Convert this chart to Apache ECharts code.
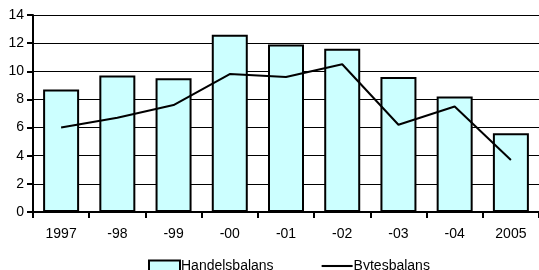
<!DOCTYPE html>
<html><head><meta charset="utf-8">
<script src="https://cdn.jsdelivr.net/npm/echarts@6/dist/echarts.min.js"></script>
<style>html,body{margin:0;padding:0;background:#fff}#c{width:539px;height:270px}</style>
</head><body><div id="c"></div>
<script>
var categories = ['1997','-98','-99','-00','-01','-02','-03','-04','2005'];
var handelsbalans = [8.7, 9.7, 9.5, 12.6, 11.9, 11.6, 9.6, 8.2, 5.6];
var bytesbalans = [6.0, 6.7, 7.6, 9.8, 9.6, 10.5, 6.2, 7.5, 3.7];
var seriesNames = ['Handelsbalans', 'Bytesbalans'];

var chart = echarts.init(document.getElementById('c'), null, {renderer: 'canvas'});
chart.setOption({
  animation: false,
  textStyle: {fontFamily: 'Liberation Sans, Arial, sans-serif'},
  grid: {left: 33, top: 15, width: 507, height: 197, containLabel: false},
  legend: {
    data: [
      {name: seriesNames[0], icon: 'rect', itemStyle: {color: '#CCFFFF', borderColor: '#000', borderWidth: 2}},
      {name: seriesNames[1], icon: 'path://M0,0 L30,0 L30,2 L0,2 Z', itemStyle: {color: '#000', borderWidth: 0}}
    ],
    top: 254, left: 143, itemGap: 48, itemWidth: 31, itemHeight: 11,
    textStyle: {fontSize: 14, color: '#000', padding: [0,0,0,-4]}
  },
  xAxis: {
    type: 'category', data: categories,
    axisLine: {lineStyle: {color: '#000', width: 2}},
    axisTick: {show: true, length: 6, lineStyle: {color: '#000', width: 2}},
    axisLabel: {fontSize: 14, color: '#000', margin: 15},
    splitLine: {show: false}
  },
  yAxis: {
    type: 'value', min: 0, max: 14, interval: 2,
    axisLine: {show: true, lineStyle: {color: '#000', width: 2}},
    axisTick: {show: true, length: 6, lineStyle: {color: '#000', width: 2}},
    axisLabel: {fontSize: 14, color: '#000', margin: 9},
    splitLine: {lineStyle: {color: '#000', width: 1}}
  },
  series: [
    {name: seriesNames[0], type: 'bar', data: handelsbalans, barWidth: 36,
     itemStyle: {color: '#CCFFFF', borderColor: '#000', borderWidth: 2}},
    {name: seriesNames[1], type: 'line', data: bytesbalans, symbol: 'none',
     lineStyle: {color: '#000', width: 2}, itemStyle: {color: '#000'}}
  ]
});
</script></body></html>
